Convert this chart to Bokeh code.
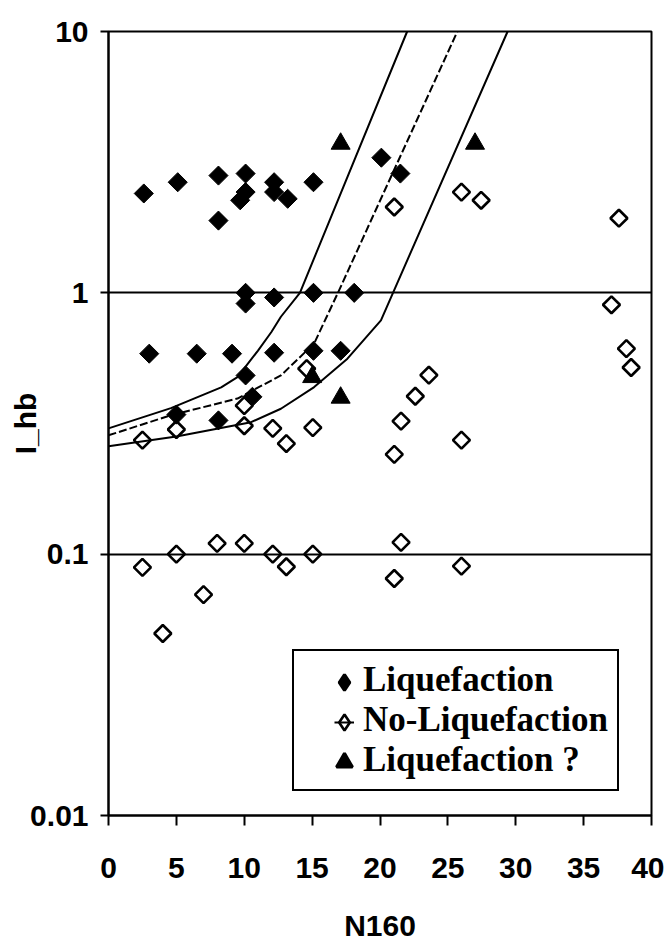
import math
from bokeh.plotting import figure
from bokeh.models import (FixedTicker, CustomJSTickFormatter, Legend, LegendItem, Range1d)
from bokeh.embed import file_html
from bokeh.resources import INLINE

# ---- data ----
liq_n160 = [2.6, 5.1, 8.1, 8.1, 10.1, 10.1, 9.7, 12.2, 12.2, 13.2, 15.1, 20.1, 21.5,
            10.1, 10.1, 12.2, 15.1, 18.1,
            3.0, 6.5, 9.1, 12.2, 15.1, 17.1,
            10.1, 10.6, 5.0, 8.1]
liq_ihb = [2.40, 2.65, 2.81, 1.89, 2.86, 2.43, 2.26, 2.65, 2.43, 2.29, 2.65, 3.29, 2.86,
           1.0, 0.91, 0.96, 1.0, 1.0,
           0.585, 0.585, 0.585, 0.59, 0.60, 0.60,
           0.483, 0.40, 0.342, 0.325]

noliq_n160 = [2.5, 5.0, 10.0, 10.0, 12.1, 13.1, 15.05, 14.6, 21.05, 21.55, 22.6, 23.6, 26.0,
              37.05, 38.15, 38.5, 37.6, 21.05, 26.0, 27.45,
              2.5, 5.0, 8.0, 10.0, 12.1, 13.1, 15.05, 21.55, 21.05, 26.0, 7.0, 4.0]
noliq_ihb = [0.273, 0.30, 0.37, 0.31, 0.303, 0.265, 0.305, 0.513, 0.241, 0.323, 0.402, 0.484, 0.273,
             0.90, 0.612, 0.518, 1.93, 2.13, 2.43, 2.26,
             0.089, 0.10, 0.11, 0.11, 0.10, 0.0895, 0.10, 0.111, 0.0807, 0.090, 0.070, 0.0497]

unsure_n160 = [17.1, 27.0, 15.0, 17.1]
unsure_ihb = [3.72, 3.72, 0.476, 0.397]

upper_n160 = [0, 4.6, 8.3, 9.5, 11.0, 12.0, 12.7, 14.1, 22.0]
upper_ihb = [0.303, 0.362, 0.435, 0.476, 0.60, 0.708, 0.81, 1.0, 10.0]

mid_n160 = [0, 4.6, 9.5, 12.7, 15.15, 16.9, 25.7]
mid_ihb = [0.285, 0.340, 0.394, 0.483, 0.64, 1.0, 10.0]

lower_n160 = [0, 5.0, 10.5, 12.7, 15.15, 17.6, 20.07, 29.4]
lower_ihb = [0.259, 0.282, 0.32, 0.36, 0.436, 0.56, 0.785, 10.0]

x_ticks = [0, 5, 10, 15, 20, 25, 30, 35, 40]
y_ticks = [0.01, 0.1, 1, 10]

legend_labels = ["Liquefaction", "No-Liquefaction", "Liquefaction ?"]

# ---- figure ----
TICK_FONT = "Liberation Sans"

p = figure(width=664, height=946, x_range=Range1d(0, 40), y_range=Range1d(0.01, 10),
           y_axis_type="log", output_backend="svg", toolbar_location=None,
           min_border_left=108, min_border_top=31, min_border_right=13, min_border_bottom=131)

p.background_fill_color = "white"
p.border_fill_color = "white"
p.outline_line_color = "black"
p.outline_line_width = 2

p.xgrid.visible = False
p.yaxis.ticker = FixedTicker(ticks=y_ticks, minor_ticks=[])
p.xaxis.ticker = FixedTicker(ticks=x_ticks, minor_ticks=[])
p.yaxis.formatter = CustomJSTickFormatter(code="return String(tick)")
p.ygrid.grid_line_color = "black"
p.ygrid.grid_line_width = 2

for ax in (p.xaxis[0], p.yaxis[0]):
    ax.axis_line_color = "black"
    ax.axis_line_width = 2
    ax.major_tick_line_color = "black"
    ax.major_tick_line_width = 2
    ax.major_tick_in = 0
    ax.minor_tick_line_color = None
    ax.major_label_text_font = TICK_FONT
    ax.major_label_text_font_style = "bold"
    ax.major_label_text_font_size = "30px"
    ax.major_label_text_color = "black"
    ax.axis_label_text_font = TICK_FONT
    ax.axis_label_text_font_style = "bold"
    ax.axis_label_text_font_size = "30px"
    ax.axis_label_text_color = "black"

p.xaxis.major_tick_out = 10
p.xaxis.major_label_standoff = 32
p.xaxis.axis_label = "N160"
p.xaxis.axis_label_standoff = 28

p.yaxis.major_tick_out = 8
p.yaxis.major_label_standoff = 12
p.yaxis.axis_label = "I_hb"
p.yaxis.axis_label_standoff = -15

# curves
p.line(upper_n160, upper_ihb, line_color="black", line_width=2)
p.line(mid_n160, mid_ihb, line_color="black", line_width=2, line_dash="8 3")
p.line(lower_n160, lower_ihb, line_color="black", line_width=2)

# points (diamonds drawn as squares turned by 45 degrees)
ROT = math.pi / 4
p.scatter(liq_n160, liq_ihb, marker="square", angle=ROT, size=13.5,
          fill_color="black", line_color="black", line_width=1)
p.scatter(noliq_n160, noliq_ihb, marker="square", angle=ROT, size=12,
          fill_color=None, line_color="black", line_width=2.6)
p.scatter(unsure_n160, unsure_ihb, marker="triangle", size=19,
          fill_color="black", line_color="black", line_width=1)

# legend helpers: renderers whose single point is NaN, so they only show in the legend
nan = [math.nan]
r0 = p.scatter(x=nan, y=nan, marker="diamond", fill_alpha=0, line_alpha=0)
r1 = p.scatter(x=nan, y=nan, marker="diamond", fill_color="black", line_color="black", line_width=3)
r2 = p.scatter(x=nan, y=nan, marker="diamond", fill_color=None, line_color="black", line_width=2.6)
r3 = p.scatter(x=nan, y=nan, marker="triangle", fill_color="black", line_color="black", line_width=3)
r2_line = p.line(x=nan, y=nan, line_color="black", line_width=2)

# text box of the legend
legend_box = Legend(items=[LegendItem(label=lab, renderers=[r0]) for lab in legend_labels],
                    location=(184, 24), glyph_width=60, glyph_height=40, label_height=40,
                    spacing=0, label_standoff=0, padding=9,
                    border_line_color="black", border_line_width=2, border_line_alpha=1,
                    background_fill_color="white", background_fill_alpha=1,
                    label_text_font="Liberation Serif", label_text_font_style="bold",
                    label_text_font_size="35px", label_text_color="black")
p.add_layout(legend_box)

# symbols of the legend
legend_sym = Legend(items=[LegendItem(label=" ", renderers=[r]) for r in (r1, r2, r3)],
                    location=(216, 33), glyph_width=40, glyph_height=40, label_height=40,
                    spacing=0, label_standoff=0, padding=0, label_width=1,
                    border_line_color=None, background_fill_alpha=0,
                    label_text_font_size="2px")
p.add_layout(legend_sym)

# short line through the open-diamond legend symbol
legend_bar = Legend(items=[LegendItem(label=" ", renderers=[r2_line])],
                    location=(226, 73), glyph_width=20, glyph_height=40, label_height=40,
                    spacing=0, label_standoff=0, padding=0, label_width=1,
                    border_line_color=None, background_fill_alpha=0,
                    label_text_font_size="2px")
p.add_layout(legend_bar)

open("out.html", "w").write(file_html(p, INLINE))
